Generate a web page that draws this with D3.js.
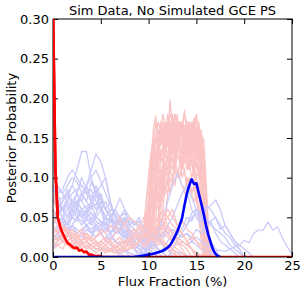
<!DOCTYPE html>
<html>
<head>
<meta charset="utf-8">
<script src="https://cdn.jsdelivr.net/npm/d3@7"></script>
<style>
  body { margin: 0; background: #fff; }
  svg text { font-family: "DejaVu Sans", sans-serif; fill: #000; }
</style>
</head>
<body>
<div id="chart"></div>
<script>
// ---- data ----
const title = 'Sim Data, No Simulated GCE PS';
const xLabel = 'Flux Fraction (%)';
const yLabel = 'Posterior Probability';
const xTicks = [0, 5, 10, 15, 20, 25];
const yTicks = [0, 0.05, 0.10, 0.15, 0.20, 0.25, 0.30];

// bold curves as [flux %, probability]
const redBold = [[0, .32], [.25, .11], [.5, .05], [.75, .038], [1, .03], [1.25, .024], [1.5, .018],
  [1.75, .016], [2, .013], [2.25, .011], [2.5, .012], [2.75, .008], [3, .009], [3.25, .006],
  [3.5, .007], [3.75, .003], [4, .003], [4.25, .002], [4.5, .001], [4.75, .0015], [5, .0005],
  [5.25, 0], [25, 0]];
const blueBold = [[0, 0], [8.5, 0], [9, .001], [9.5, .002], [10, .003], [10.5, .004], [11, .006],
  [11.25, .007], [11.5, .008], [11.75, .01], [12, .012], [12.25, .015], [12.5, .02], [12.75, .026],
  [13, .032], [13.25, .04], [13.5, .049], [13.75, .065], [14, .08], [14.25, .09], [14.5, .098],
  [14.75, .092], [15, .093], [15.25, .08], [15.5, .068], [15.75, .055], [16, .04], [16.25, .028],
  [16.5, .018], [16.75, .009], [17, .004], [17.25, .001], [17.5, 0]];

// faint pink curves peaked at 10-16.5 %: start, then values every 0.25 %
const pinkPeakStep = 0.25;
const pinkPeaked = [
  [9.5, [.01,.03,.06,.09,.10,.12,.11,.13,.12,.14,.15,.198,.16,.17,.14,.16,.15,.13,.14,.12,.13,.11,.12,.10,.11,.08,.04,.01,0]],
  [9.75, [.02,.05,.10,.14,.17,.15,.16,.14,.17,.15,.16,.13,.15,.14,.16,.17,.15,.14,.16,.15,.17,.18,.15,.16,.12,.05,.01,0]],
  [10, [.02,.06,.10,.13,.12,.15,.14,.16,.15,.17,.16,.18,.15,.17,.16,.15,.17,.16,.14,.15,.13,.12,.06,.02,0]],
  [9.5, [.01,.04,.08,.12,.16,.178,.15,.14,.16,.13,.15,.12,.14,.13,.15,.14,.12,.13,.11,.12,.10,.11,.09,.08,.05,.02,0]],
  [10.25, [.01,.04,.07,.09,.11,.10,.12,.11,.13,.12,.14,.13,.15,.14,.16,.15,.17,.16,.175,.16,.15,.13,.08,.03,0]],
  [10, [.01,.03,.05,.08,.10,.09,.11,.12,.10,.13,.12,.11,.13,.12,.14,.12,.13,.11,.12,.10,.08,.05,.02,0]],
  [10.5, [.02,.05,.09,.12,.14,.13,.15,.14,.16,.13,.15,.14,.12,.13,.15,.14,.16,.14,.12,.10,.13,.11,.06,.02,0]],
  [9.25, [.01,.02,.04,.06,.08,.10,.09,.11,.13,.12,.14,.13,.12,.14,.11,.13,.12,.10,.11,.09,.10,.08,.09,.07,.06,.03,.01,0]],
  [11, [.02,.06,.10,.14,.16,.18,.17,.16,.18,.15,.17,.16,.14,.17,.15,.16,.178,.15,.09,.03,0]],
  [10, [.02,.04,.06,.08,.07,.09,.08,.10,.09,.11,.10,.12,.11,.10,.12,.11,.09,.10,.08,.09,.07,.08,.06,.04,.02,0]],
  [10.75, [.01,.03,.06,.09,.12,.11,.14,.13,.16,.15,.17,.16,.14,.15,.13,.16,.14,.15,.12,.14,.10,.05,.01,0]],
  [9.75, [.02,.05,.09,.13,.15,.14,.17,.15,.16,.14,.13,.15,.12,.14,.13,.11,.12,.14,.13,.12,.11,.10,.09,.07,.04,.01,0]],
  [10.5, [.01,.03,.05,.07,.09,.08,.10,.12,.11,.13,.15,.14,.16,.185,.15,.14,.13,.15,.12,.10,.11,.07,.03,0]],
  [11.5, [.02,.05,.08,.11,.14,.13,.16,.15,.17,.165,.15,.16,.14,.13,.15,.12,.13,.08,.03,0]],
  [10.25, [.03,.07,.11,.15,.16,.17,.15,.18,.16,.17,.15,.14,.16,.15,.13,.14,.12,.13,.11,.12,.10,.11,.09,.05,.02,0]],
  [9.5, [.02,.05,.07,.06,.08,.09,.07,.10,.09,.11,.10,.08,.10,.09,.11,.10,.09,.08,.10,.09,.08,.07,.08,.06,.05,.03,.01,0]],
  [9.75, [.01,.03,.07,.11,.15,.17,.16,.18,.165,.17,.15,.16,.14,.17,.16,.15,.14,.16,.15,.17,.16,.15,.17,.14,.15,.10,.04,.01,0]],
  [10, [.03,.08,.12,.15,.14,.16,.15,.13,.15,.17,.16,.14,.16,.15,.17,.16,.14,.15,.16,.14,.13,.15,.12,.13,.07,.02,0]],
  [10.25, [.02,.05,.09,.13,.12,.14,.16,.15,.17,.16,.18,.17,.15,.16,.14,.15,.17,.16,.15,.14,.16,.15,.11,.05,.01,0]],
  [9.5, [.03,.07,.10,.13,.14,.12,.15,.13,.14,.16,.15,.13,.14,.12,.15,.14,.13,.16,.15,.14,.13,.15,.14,.12,.13,.11,.06,.02,0]],
  [10.5, [.04,.09,.13,.16,.15,.17,.16,.14,.16,.15,.13,.17,.15,.16,.14,.15,.16,.17,.15,.16,.13,.09,.03,0]],
  [10, [.01,.03,.05,.07,.06,.08,.07,.09,.08,.10,.09,.11,.10,.12,.11,.13,.12,.11,.13,.12,.10,.11,.09,.07,.04,.01,0]],
  [11, [.03,.07,.11,.13,.15,.14,.16,.15,.13,.15,.16,.14,.17,.15,.16,.14,.15,.13,.14,.08,.03,0]],
  [9.75, [.02,.06,.11,.15,.13,.14,.12,.14,.13,.15,.14,.16,.13,.15,.14,.12,.14,.13,.15,.14,.12,.13,.14,.12,.10,.08,.03,0]],
  [10.25, [.02,.06,.10,.14,.17,.16,.15,.17,.16,.175,.15,.16,.17,.15,.16,.14,.16,.15,.17,.16,.14,.15,.13,.07,.02,0]],
  [9.25, [.02,.04,.07,.10,.13,.15,.14,.16,.15,.14,.16,.15,.14,.13,.15,.14,.16,.15,.13,.14,.15,.13,.14,.12,.13,.11,.09,.04,.01,0]],
  [10.75, [.02,.05,.09,.12,.15,.17,.16,.18,.16,.17,.15,.16,.18,.17,.16,.15,.16,.14,.15,.16,.13,.07,.02,0]],
  [10, [.02,.04,.08,.11,.13,.12,.14,.13,.12,.14,.13,.15,.14,.13,.12,.14,.13,.12,.14,.13,.12,.11,.10,.08,.05,.02,0]],
  [11.25, [.02,.06,.10,.13,.15,.17,.16,.15,.17,.16,.14,.16,.15,.17,.15,.16,.14,.12,.06,.02,0]],
  [9.75, [.01,.02,.04,.06,.09,.11,.10,.12,.11,.13,.12,.14,.13,.15,.14,.13,.15,.14,.16,.15,.14,.16,.15,.14,.12,.08,.03,0]]
];

// faint pink curves spread low over 0-16 %: start, then values every 0.5 %
const pinkLowStep = 0.5;
const pinkLow = [
  [0, [.05,.04,.03,.035,.025,.03,.02,.025,.02,.015,.02,.015,.01,.015,.02,.015,.025,.03,.02,.025,.03,.02,.04,.05,.04,.03,.035,.03,.02,.025,.02,.015,.01,0]],
  [0, [.03,.035,.03,.025,.03,.02,.015,.02,.025,.02,.01,.015,.01,.005,.01,.015,.02,.03,.035,.05,.04,.03,.04,.035,.03,.02,.025,.02,.015,.01,.005,0]],
  [0, [.02,.025,.02,.03,.02,.025,.03,.02,.015,.02,.01,.015,.02,.01,.015,.01,.02,.015,.02,.025,.03,.025,.02,.03,.025,.02,.015,.02,.015,.01,.005,.003,0]],
  [0, [.04,.03,.025,.02,.015,.02,.01,.015,.01,.005,.01,.005,.008,.005,.01,.008,.01,.015,.02,.015,.02,.025,.03,.04,.05,.06,.04,.045,.035,.03,.02,.01,0]],
  [0, [.01,.015,.02,.015,.01,.02,.015,.01,.015,.01,.008,.01,.006,.01,.008,.012,.015,.01,.02,.015,.025,.02,.015,.02,.01,.015,.01,.005,0]],
  [0, [.06,.045,.035,.03,.02,.025,.015,.02,.01,.015,.01,.005,.01,.006,.004,.008,.01,.02,.03,.025,.035,.05,.045,.06,.05,.04,.035,.03,.02,.01,0]],
  [0, [.03,.02,.025,.015,.02,.01,.015,.02,.015,.01,.012,.008,.01,.012,.015,.02,.018,.025,.03,.04,.035,.03,.025,.02,.015,.01,0]],
  [0, [.045,.05,.04,.03,.035,.025,.02,.03,.025,.02,.015,.02,.018,.012,.015,.02,.025,.03,.04,.035,.045,.04,.05,.045,.035,.03,.02,.01,0]],
  [0, [.02,.015,.01,.02,.025,.015,.02,.012,.01,.015,.02,.025,.02,.03,.035,.04,.05,.045,.04,.03,.035,.03,.025,.02,.015,.01,.005,0]],
  [0, [.035,.03,.04,.03,.025,.03,.035,.025,.02,.025,.03,.02,.015,.02,.025,.015,.02,.015,.02,.03,.025,.035,.03,.04,.03,.025,.02,.015,.01,0]],
  [0, [.015,.02,.03,.02,.015,.01,.02,.03,.02,.025,.035,.03,.04,.035,.05,.04,.03,.035,.025,.03,.02,.025,.02,.015,.01,.005,0]],
  [0, [.08,.05,.04,.035,.03,.025,.03,.02,.025,.02,.015,.012,.01,.015,.01,.008,.012,.015,.02,.025,.03,.035,.04,.05,.06,.05,.04,.03,.02,.01,0]]
];

// faint blue curves: start, then values every 0.5 %
const blueFaintStep = 0.5;
const blueFaint = [
  [0, [.06,.05,.07,.08,.09,.11,.133,.133,.10,.08,.06,.05,.03,.02,.015,.01,.005,.003,0]],
  [0, [.04,.05,.06,.05,.07,.08,.07,.09,.11,.13,.12,.10,.07,.05,.04,.03,.02,.01,.005,0]],
  [0, [.12,.08,.085,.10,.11,.10,.09,.08,.085,.07,.06,.04,.03,.02,.015,.01,0]],
  [0, [.09,.085,.08,.09,.10,.095,.08,.07,.06,.08,.09,.10,.07,.05,.04,.03,.02,.01,.005,0]],
  [0, [.05,.06,.05,.07,.06,.08,.07,.06,.065,.05,.06,.04,.05,.03,.035,.05,.03,.02,.015,.01,.01,.005,0]],
  [0, [.03,.04,.05,.04,.06,.05,.04,.05,.04,.05,.045,.04,.05,.06,.074,.06,.04,.035,.03,.02,.02,.015,.01,.005,0]],
  [0, [.02,.03,.04,.05,.06,.07,.08,.09,.075,.085,.07,.06,.05,.04,.03,.025,.02,.015,.01,.01,.005,0]],
  [0, [.01,.02,.03,.025,.04,.03,.035,.04,.03,.025,.03,.02,.025,.02,.015,.02,.015,.01,.015,.01,.01,.015,.01,.005,.01,.008,.006,.004,.002,0]],
  [0, [.10,.09,.08,.07,.06,.055,.05,.04,.03,.035,.03,.02,.015,.01,0]],
  [0, [.01,.015,.02,.02,.025,.02,.015,.02,.015,.01,.012,.01,.008,.01,.008,.006,.01,.012,.015,.02,.025,.02,.03,.025,.03,.035,.03,.025,.03,.02,.025,.02,.015,.012,.01,.008,.007,.01,.013,.015,.021,.018,.03,.034,.034,.044,.034,.038,.024,.013,.003]],
  [9, [0,.005,.01,.02,.03,.05,.07,.09,.105,.09,.085,.06,.05,.04,.03,.02,.01,0]],
  [12, [0,.01,.02,.03,.04,.05,.055,.045,.06,.065,.072,.06,.04,.03,.02,.015,.01,.005,0]],
  [12, [.01,.02,.03,.035,.05,.045,.06,.055,.05,.04,.035,.03,.025,.015,.01,.005,0]],
  [0, [.04,.03,.035,.03,.04,.035,.03,.04,.045,.035,.03,.035,.04,.03,.03,.025,.02,.025,.03,.03,.035,.03,.025,.03,.04,.03,.025,.02,.015,.02,.015,.01,.008,.005,.003,0]],
  [0, [.07,.065,.06,.05,.06,.07,.06,.065,.055,.05,.045,.04,.03,.035,.03,.025,.02,.02,.015,.01,.01,.005,0]],
  [0, [.085,.07,.075,.08,.065,.07,.06,.05,.055,.045,.04,.03,.02,.01,.005,0]],
  [0, [.03,.04,.035,.045,.05,.06,.05,.055,.07,.08,.075,.06,.05,.045,.03,.02,.015,.01,0]],
  [0, [.05,.055,.06,.07,.08,.085,.09,.08,.07,.06,.07,.06,.05,.04,.035,.03,.02,.015,.01,.005,0]],
  [0, [.07,.08,.06,.075,.09,.08,.10,.085,.07,.09,.075,.06,.07,.05,.04,.045,.03,.02,.01,.005,0]],
  [0, [.04,.06,.07,.085,.07,.06,.08,.07,.095,.08,.06,.07,.055,.04,.05,.035,.025,.02,.015,.01,0]],
  [0, [.06,.045,.05,.04,.055,.065,.05,.06,.045,.055,.07,.06,.05,.045,.04,.03,.035,.025,.02,.015,.01,.005,0]],
  [0, [.02,.025,.04,.035,.05,.045,.06,.05,.07,.065,.08,.06,.05,.04,.045,.035,.03,.02,.025,.015,.01,.005,0]],
  [0, [.09,.07,.06,.065,.05,.06,.055,.045,.05,.04,.045,.035,.03,.04,.035,.025,.03,.02,.015,.01,.005,0]],
  [0, [.03,.035,.045,.06,.07,.065,.08,.09,.10,.11,.095,.08,.065,.05,.04,.03,.02,.015,.01,0]],
  [0, [.05,.04,.045,.035,.04,.05,.045,.04,.035,.04,.03,.035,.045,.04,.05,.045,.035,.03,.025,.02,.015,.02,.01,.005,0]],
  [0, [.025,.03,.02,.03,.035,.03,.025,.035,.03,.025,.03,.02,.025,.03,.035,.03,.025,.02,.03,.025,.02,.03,.035,.04,.03,.035,.03,.025,.03,.025,.035,.03,.04,.045,.05,.04,.03,.025,.015,.01,0]],
  [10, [.01,.02,.03,.025,.04,.05,.065,.08,.09,.075,.06,.05,.04,.045,.03,.02,.015,.01,.005,0]],
  [11, [.005,.01,.02,.03,.035,.045,.04,.055,.06,.05,.065,.06,.05,.035,.04,.03,.02,.01,0]],
  [3, [.02,.03,.025,.035,.04,.05,.045,.06,.05,.055,.045,.04,.05,.035,.03,.025,.02,.015,.01,.005,0]],
  [4, [.03,.04,.035,.05,.045,.04,.05,.06,.05,.04,.045,.035,.03,.02,.025,.015,.01,0]],
  [2, [.04,.05,.06,.055,.07,.06,.065,.05,.06,.055,.045,.05,.04,.035,.03,.02,.015,.01,.005,0]],
  [5, [.02,.025,.03,.04,.035,.03,.04,.045,.035,.03,.025,.03,.02,.015,.01,0]]
];

// ---- drawing ----
const width = 305, height = 294;
const plot = { left: 53, right: 292, top: 19, bottom: 257 };

const x = d3.scaleLinear().domain([0, 25]).range([plot.left, plot.right]);
const y = d3.scaleLinear().domain([0, 0.30]).range([plot.bottom, plot.top]);

const svg = d3.select('#chart').append('svg')
  .attr('width', width)
  .attr('height', height);

svg.append('clipPath').attr('id', 'plot-clip')
  .append('rect')
  .attr('x', plot.left).attr('y', plot.top)
  .attr('width', plot.right - plot.left)
  .attr('height', plot.bottom - plot.top);

const line = d3.line().x(d => x(d[0])).y(d => y(d[1]));

// expand [start, values] into [flux, prob] pairs
const toPoints = (curve, step) => curve[1].map((v, i) => [curve[0] + i * step, v]);

const g = svg.append('g').attr('clip-path', 'url(#plot-clip)');

function drawFaint(curves, step, color) {
  g.append('g')
    .selectAll('path')
    .data(curves)
    .join('path')
    .attr('d', c => line(toPoints(c, step)))
    .attr('fill', 'none')
    .attr('stroke', color)
    .attr('stroke-width', 1.3)
    .attr('stroke-linejoin', 'round');
}

drawFaint(pinkPeaked, pinkPeakStep, '#fbc4c4');
drawFaint(blueFaint, blueFaintStep, '#cbcbfa');
drawFaint(pinkLow, pinkLowStep, '#fbc4c4');

g.append('path').datum(redBold)
  .attr('d', line).attr('fill', 'none')
  .attr('stroke', '#ff0000').attr('stroke-width', 2.6).attr('stroke-linejoin', 'round');

g.append('path').datum(blueBold)
  .attr('d', line).attr('fill', 'none')
  .attr('stroke', '#0000ff').attr('stroke-width', 2.6).attr('stroke-linejoin', 'round');

// Axes: ticks point inward on all four sides
const tick = 5;
const styleAxis = sel => {
  sel.select('.domain').remove();
  sel.selectAll('line').attr('stroke', '#000');
  sel.selectAll('text').attr('font-size', 13).attr('font-family', '"DejaVu Sans", sans-serif');
};

svg.append('g')
  .attr('transform', `translate(0,${plot.bottom})`)
  .call(d3.axisBottom(x).tickValues(xTicks).tickFormat(d3.format('d'))
    .tickSizeInner(-tick).tickSizeOuter(0).tickPadding(4))
  .call(styleAxis);

svg.append('g')
  .attr('transform', `translate(0,${plot.top})`)
  .call(d3.axisTop(x).tickValues(xTicks).tickFormat('')
    .tickSizeInner(-tick).tickSizeOuter(0))
  .call(styleAxis);

svg.append('g')
  .attr('transform', `translate(${plot.left},0)`)
  .call(d3.axisLeft(y).tickValues(yTicks).tickFormat(d3.format('.2f'))
    .tickSizeInner(-tick).tickSizeOuter(0).tickPadding(4))
  .call(styleAxis);

svg.append('g')
  .attr('transform', `translate(${plot.right},0)`)
  .call(d3.axisRight(y).tickValues(yTicks).tickFormat('')
    .tickSizeInner(-tick).tickSizeOuter(0))
  .call(styleAxis);

// frame
svg.append('rect')
  .attr('x', plot.left).attr('y', plot.top)
  .attr('width', plot.right - plot.left)
  .attr('height', plot.bottom - plot.top)
  .attr('fill', 'none')
  .attr('stroke', '#000')
  .attr('stroke-width', 1);

// red bold sits on top of the left spine, as in the reference
svg.append('g').attr('clip-path', 'url(#plot-clip)')
  .append('path').datum(redBold.slice(0, 3))
  .attr('d', line).attr('fill', 'none')
  .attr('stroke', '#ff0000').attr('stroke-width', 2.6);

svg.append('text')
  .attr('x', (plot.left + plot.right) / 2).attr('y', 15)
  .attr('text-anchor', 'middle').attr('font-size', 13)
  .text(title);

svg.append('text')
  .attr('x', (plot.left + plot.right) / 2).attr('y', 286)
  .attr('text-anchor', 'middle').attr('font-size', 13)
  .text(xLabel);

svg.append('text')
  .attr('transform', `translate(16,${(plot.top + plot.bottom) / 2}) rotate(-90)`)
  .attr('text-anchor', 'middle').attr('font-size', 13)
  .text(yLabel);
</script>
</body>
</html>
